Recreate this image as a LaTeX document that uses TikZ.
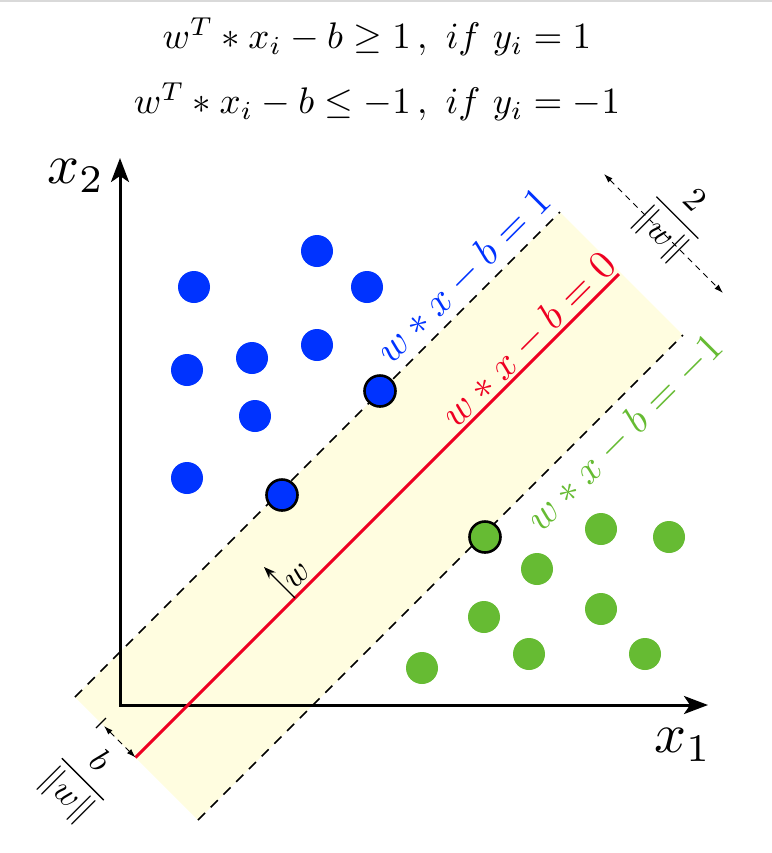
\documentclass[tikz,border=0pt]{standalone}
\usepackage{amsmath,amssymb}
\usepackage{xcolor}
\usepackage{tikz}
\usetikzlibrary{arrows.meta, calc}

\definecolor{svmblue}{RGB}{0,51,255}
\definecolor{svmgreen}{RGB}{102,187,51}
\definecolor{svmred}{RGB}{238,0,34}
\definecolor{bandyellow}{RGB}{255,253,224}

\begin{document}
\begin{tikzpicture}[x=0.5pt,y=-0.5pt,thick,
    >={Stealth[length=12pt,width=9pt,inset=3pt]},
    datapt/.style={circle,fill=#1,minimum size=16pt,inner sep=0pt},
    suppvec/.style={circle,fill=#1,draw=black,line width=1.3pt,minimum size=15.5pt,inner sep=0pt},
    marginline/.style={line width=0.75pt,dash pattern=on 5pt off 4pt},
    dimarrow/.style={line width=0.5pt,dash pattern=on 3pt off 2.5pt,
        {Latex[length=4.5pt,width=3pt]}-{Latex[length=4.5pt,width=3pt]}},
    eqn/.style={scale=1.85},
    axlbl/.style={scale=2.8},
    linelbl/.style={scale=2,rotate=45},
    fraclbl/.style={scale=1.7,rotate=-45,inner sep=1pt}]

    \useasboundingbox (0,0) rectangle (772,853);
    \draw[black!15,line width=0.8pt] (0,1) -- (772,1);

    % Constraints
    \node[eqn] (eqpos) at (377,37) {$w^T * x_i - b \geq 1\,,\ if\ y_i = 1$};
    \node[eqn] (eqneg) at (377,102) {$w^T * x_i - b \leq -1\,,\ if\ y_i = -1$};

    % Margin band
    \coordinate (UL) at (75,697);
    \coordinate (UR) at (560,212);
    \coordinate (LL) at (198,820);
    \coordinate (LR) at (683,335);
    \coordinate (RL) at (135.5,757.5);
    \coordinate (RR) at (619,274);
    \fill[bandyellow] (UL) -- (UR) -- (LR) -- (LL) -- cycle;

    % Axes
    \coordinate (O) at (120,705);
    \coordinate (xend) at (708,705);
    \coordinate (yend) at (120,158);
    \draw[<->,line width=1.5pt] (yend) -- (O) -- (xend);
    \node[axlbl] (x1lbl) at (683,745) {$x_1$};
    \node[axlbl] (x2lbl) at (76,176) {$x_2$};

    % Hyperplanes
    \draw[marginline] (UL) -- (UR);
    \draw[marginline] (LL) -- (LR);
    \draw[svmred,line width=1.5pt] (RL) -- (RR);

    \node[linelbl,text=svmblue] (lblpos) at (464,276) {$w * x - b = 1$};
    \node[linelbl,text=svmred] (lblzero) at (529,340) {$w * x - b = 0$};
    \node[linelbl,text=svmgreen] (lblneg) at (625,433) {$w * x - b = -1$};

    % Normal vector
    \coordinate (wbase) at (295,598);
    \coordinate (wtip) at (264,567);
    \draw[-{Stealth[length=6pt,width=4.5pt]},line width=0.6pt] (wbase) -- (wtip);
    \node[scale=1.7,rotate=45] (wlbl) at (298,576) {$w$};

    % Margin width
    \coordinate (mtop) at (604,174);
    \coordinate (mbot) at (723,293);
    \draw[dimarrow] (mtop) -- (mbot);
    \node[fraclbl] (marginlbl) at (676,219) {$\dfrac{2}{\|w\|}$};

    % Offset
    \coordinate (otick) at (101,723);
    \coordinate (ostart) at (104,726);
    \draw[line width=0.6pt] ($(otick)+(-5,5)$) -- ($(otick)+(5,-5)$);
    \draw[dimarrow] (ostart) -- (RL);
    \node[fraclbl] (offsetlbl) at (82,780) {$\dfrac{b}{\|w\|}$};

    % Class +1
    \node[datapt=svmblue] (b1) at (194,287) {};
    \node[datapt=svmblue] (b2) at (317,251) {};
    \node[datapt=svmblue] (b3) at (367,287) {};
    \node[datapt=svmblue] (b4) at (187,370) {};
    \node[datapt=svmblue] (b5) at (252,358) {};
    \node[datapt=svmblue] (b6) at (317,345) {};
    \node[datapt=svmblue] (b7) at (255,416) {};
    \node[datapt=svmblue] (b8) at (187,478) {};
    \node[suppvec=svmblue] (sb1) at (380,391) {};
    \node[suppvec=svmblue] (sb2) at (282,495) {};

    % Class -1
    \node[suppvec=svmgreen] (sg1) at (485,537) {};
    \node[datapt=svmgreen] (g1) at (601,529) {};
    \node[datapt=svmgreen] (g2) at (669,537) {};
    \node[datapt=svmgreen] (g3) at (537,569) {};
    \node[datapt=svmgreen] (g4) at (484,617) {};
    \node[datapt=svmgreen] (g5) at (601,609) {};
    \node[datapt=svmgreen] (g6) at (422,668) {};
    \node[datapt=svmgreen] (g7) at (529,654) {};
    \node[datapt=svmgreen] (g8) at (645,654) {};
\end{tikzpicture}
\end{document}
